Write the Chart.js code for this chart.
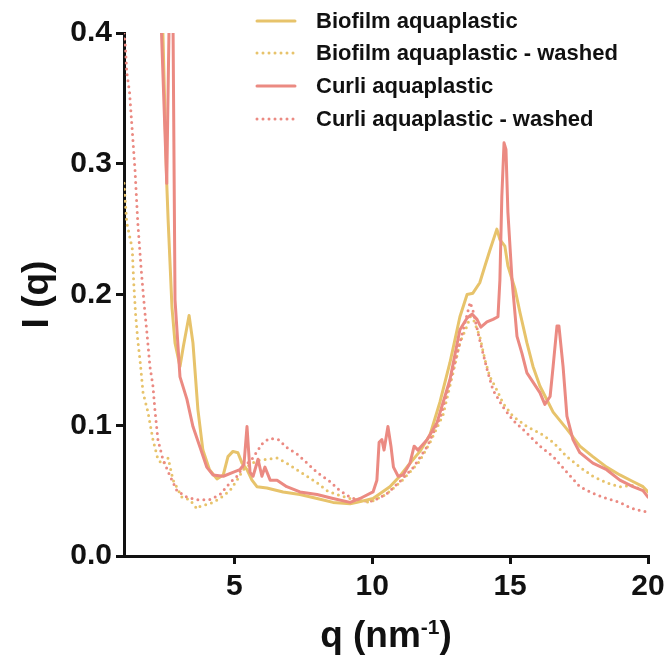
<!DOCTYPE html>
<html><head><meta charset="utf-8">
<script src="https://cdn.jsdelivr.net/npm/chart.js@4.4.0/dist/chart.umd.min.js"></script>
<style>html,body{margin:0;padding:0;background:#fff;} canvas{display:block;}</style>
</head><body>
<canvas id="c" width="670" height="663"></canvas>
<script>
const seriesNames = ["Biofilm aquaplastic", "Biofilm aquaplastic - washed", "Curli aquaplastic", "Curli aquaplastic - washed"];
const xTicks = [5, 10, 15, 20];
const yTicks = [0, 0.1, 0.2, 0.3, 0.4];

const biofilmQ = [2.2, 2.41, 2.55, 2.6, 2.74, 2.85, 3.03, 3.15, 3.36, 3.5, 3.68, 3.86, 4.1, 4.37, 4.6, 4.77, 4.95, 5.13, 5.28, 5.46, 5.64, 5.82, 6.18, 6.77, 7.38, 8.0, 8.58, 9.2, 9.45, 10.03, 10.64, 11.0, 11.37, 11.73, 12.1, 12.46, 12.82, 13.18, 13.44, 13.65, 13.9, 14.09, 14.27, 14.52, 14.63, 14.81, 14.92, 15.18, 15.36, 15.61, 15.83, 16.08, 16.37, 16.56, 17.06, 17.53, 18.0, 18.5, 18.98, 19.45, 19.82, 20.0];
const biofilmI = [0.6, 0.4, 0.285, 0.257, 0.19, 0.163, 0.145, 0.16, 0.184, 0.163, 0.112, 0.081, 0.066, 0.059, 0.062, 0.076, 0.08, 0.079, 0.071, 0.066, 0.058, 0.053, 0.052, 0.049, 0.047, 0.044, 0.041, 0.04, 0.041, 0.044, 0.053, 0.061, 0.071, 0.08, 0.093, 0.118, 0.148, 0.183, 0.2, 0.201, 0.209, 0.222, 0.234, 0.25, 0.242, 0.237, 0.222, 0.204, 0.186, 0.163, 0.145, 0.13, 0.118, 0.11, 0.097, 0.084, 0.076, 0.068, 0.062, 0.057, 0.053, 0.049];

const biofilmWashedQ = [1.0, 1.05, 1.1, 1.2, 1.3, 1.35, 1.42, 1.5, 1.58, 1.69, 1.87, 2.05, 2.23, 2.4, 2.6, 2.78, 3.1, 3.39, 3.65, 3.76, 4.12, 4.48, 4.84, 5.1, 5.32, 5.57, 5.82, 6.18, 6.55, 6.9, 7.27, 7.64, 8.0, 8.36, 8.72, 9.2, 9.9, 10.5, 11.1, 11.7, 12.1, 12.57, 12.93, 13.18, 13.44, 13.55, 13.65, 13.9, 14.09, 14.27, 14.52, 14.74, 15.1, 15.61, 16.08, 16.56, 17.06, 17.53, 18.0, 18.5, 18.98, 19.45, 19.82, 20.0];
const biofilmWashedI = [0.285, 0.27, 0.255, 0.245, 0.235, 0.21, 0.185, 0.165, 0.15, 0.125, 0.11, 0.089, 0.074, 0.07, 0.075, 0.058, 0.045, 0.043, 0.036, 0.038, 0.04, 0.044, 0.05, 0.058, 0.066, 0.07, 0.073, 0.074, 0.075, 0.071, 0.066, 0.061, 0.056, 0.05, 0.047, 0.044, 0.041, 0.047, 0.058, 0.072, 0.087, 0.108, 0.14, 0.163, 0.176, 0.183, 0.182, 0.168, 0.15, 0.137, 0.127, 0.117, 0.107, 0.099, 0.094, 0.087, 0.076, 0.068, 0.061, 0.056, 0.053, 0.054, 0.05, 0.049];

const curliQ = [2.2, 2.36, 2.55, 2.63, 2.7, 2.78, 2.85, 3.03, 3.28, 3.5, 3.76, 4.0, 4.23, 4.6, 4.95, 5.2, 5.35, 5.46, 5.57, 5.68, 5.86, 6.0, 6.11, 6.3, 6.55, 6.9, 7.38, 8.0, 8.58, 9.2, 9.56, 10.03, 10.17, 10.25, 10.35, 10.43, 10.57, 10.68, 10.77, 10.94, 11.12, 11.37, 11.52, 11.66, 11.99, 12.35, 12.82, 13.18, 13.44, 13.62, 13.8, 13.94, 14.16, 14.38, 14.56, 14.63, 14.7, 14.78, 14.85, 14.92, 15.07, 15.25, 15.43, 15.61, 15.83, 16.08, 16.26, 16.45, 16.56, 16.7, 16.77, 16.92, 17.06, 17.28, 17.53, 18.0, 18.5, 18.98, 19.45, 19.82, 20.0];
const curliI = [0.6, 0.4, 0.285, 0.4, 0.55, 0.4, 0.196, 0.137, 0.12, 0.099, 0.083, 0.068, 0.062, 0.061, 0.064, 0.066, 0.07, 0.099, 0.064, 0.061, 0.074, 0.061, 0.068, 0.058, 0.058, 0.053, 0.049, 0.047, 0.044, 0.041, 0.044, 0.049, 0.058, 0.087, 0.089, 0.081, 0.099, 0.084, 0.068, 0.061, 0.062, 0.071, 0.084, 0.081, 0.089, 0.102, 0.135, 0.173, 0.182, 0.185, 0.181, 0.175, 0.179, 0.181, 0.183, 0.211, 0.275, 0.316, 0.311, 0.263, 0.211, 0.168, 0.155, 0.14, 0.133, 0.125, 0.116, 0.122, 0.145, 0.176, 0.176, 0.145, 0.107, 0.089, 0.079, 0.071, 0.066, 0.058, 0.053, 0.05, 0.045];

const curliWashedQ = [1.0, 1.05, 1.1, 1.2, 1.3, 1.4, 1.5, 1.62, 1.7, 1.76, 1.83, 1.94, 2.05, 2.12, 2.23, 2.41, 2.67, 2.92, 3.28, 3.65, 4.1, 4.48, 4.84, 5.1, 5.32, 5.64, 5.86, 6.05, 6.3, 6.6, 6.9, 7.27, 7.64, 8.0, 8.47, 8.83, 9.2, 9.6, 10.0, 10.5, 11.0, 11.5, 12.0, 12.5, 12.9, 13.3, 13.55, 13.65, 13.9, 14.16, 14.38, 14.74, 15.1, 15.61, 16.08, 16.56, 17.06, 17.53, 18.0, 18.5, 18.98, 19.35, 19.82, 20.0];
const curliWashedI = [0.4, 0.39, 0.37, 0.355, 0.325, 0.295, 0.255, 0.22, 0.2, 0.186, 0.171, 0.145, 0.13, 0.112, 0.089, 0.074, 0.061, 0.05, 0.045, 0.043, 0.043, 0.047, 0.056, 0.061, 0.068, 0.074, 0.081, 0.087, 0.09, 0.089, 0.083, 0.078, 0.071, 0.064, 0.057, 0.05, 0.045, 0.042, 0.042, 0.047, 0.057, 0.068, 0.084, 0.108, 0.14, 0.173, 0.194, 0.188, 0.165, 0.143, 0.127, 0.114, 0.104, 0.094, 0.084, 0.076, 0.064, 0.053, 0.048, 0.044, 0.041, 0.037, 0.034, 0.034];

const YELLOW = '#E7C36B';
const PINK = '#EB8A82';
const FONT = "'Liberation Sans', Arial, Helvetica, sans-serif";

function pts(qs, is) { return qs.map((q, i) => ({ x: q, y: is[i] })); }

const styles = [
  { color: YELLOW, dash: [], width: 3, order: 1 },
  { color: YELLOW, dash: [0, 6], width: 3, order: 3 },
  { color: PINK, dash: [], width: 3, order: 0 },
  { color: PINK, dash: [0, 6], width: 3, order: 2 }
];
const allData = [pts(biofilmQ, biofilmI), pts(biofilmWashedQ, biofilmWashedI), pts(curliQ, curliI), pts(curliWashedQ, curliWashedI)];

const datasets = allData.map((d, k) => ({
  label: seriesNames[k],
  data: d,
  borderColor: styles[k].color,
  backgroundColor: styles[k].color,
  borderWidth: styles[k].width,
  borderDash: styles[k].dash,
  borderCapStyle: 'round',
  borderJoinStyle: 'round',
  pointRadius: 0,
  tension: 0,
  fill: false,
  order: styles[k].order
}));

const decor = {
  id: 'decor',
  afterDraw(chart) {
    const ctx = chart.ctx;
    const a = chart.chartArea;
    ctx.save();
    ctx.fillStyle = '#111';
    // Y title
    ctx.save();
    ctx.translate(38, (a.top + a.bottom) / 2);
    ctx.rotate(-Math.PI / 2);
    ctx.font = "bold 37px " + FONT;
    ctx.textAlign = 'center';
    ctx.textBaseline = 'middle';
    ctx.fillText('I (q)', 0, 0);
    ctx.restore();
    // X title with superscript
    const big = "bold 37px " + FONT, small = "bold 21px " + FONT;
    const p1 = 'q (nm', sup = '-1', p2 = ')';
    ctx.font = big; const w1 = ctx.measureText(p1).width, w3 = ctx.measureText(p2).width;
    ctx.font = small; const w2 = ctx.measureText(sup).width;
    const total = w1 + w2 + w3;
    let x = (a.left + a.right) / 2 - total / 2;
    const base = 647;
    ctx.textAlign = 'left';
    ctx.textBaseline = 'alphabetic';
    ctx.font = big; ctx.fillText(p1, x, base); x += w1;
    ctx.font = small; ctx.fillText(sup, x, base - 13); x += w2;
    ctx.font = big; ctx.fillText(p2, x, base);
    // Legend
    const rows = [21, 53, 86, 119];
    ctx.font = "bold 22px " + FONT;
    ctx.textBaseline = 'middle';
    datasets.forEach((ds, k) => {
      const y = rows[k];
      ctx.beginPath();
      ctx.strokeStyle = ds.borderColor;
      ctx.lineWidth = 3;
      ctx.lineCap = 'round';
      ctx.setLineDash(ds.borderDash);
      ctx.moveTo(257, y);
      ctx.lineTo(295, y);
      ctx.stroke();
      ctx.setLineDash([]);
      ctx.fillStyle = '#111';
      ctx.fillText(ds.label, 316, y + 1);
    });
    ctx.restore();
  }
};

const tickFont = { family: FONT, weight: 'bold', size: 30 };

new Chart(document.getElementById('c'), {
  type: 'line',
  data: { datasets },
  options: {
    responsive: false,
    animation: false,
    parsing: true,
    layout: { padding: { top: 33, right: 22, left: 0, bottom: 0 } },
    plugins: { legend: { display: false }, tooltip: { enabled: false } },
    scales: {
      x: {
        type: 'linear', min: 1, max: 20,
        afterBuildTicks: s => { s.ticks = xTicks.map(v => ({ value: v })); },
        afterFit: s => { s.height = 107; },
        grid: { drawOnChartArea: false, drawTicks: true, tickLength: 8, tickWidth: 3, tickColor: '#111', color: '#111', lineWidth: 3 },
        border: { display: true, color: '#111', width: 3 },
        ticks: { font: tickFont, color: '#111', padding: 5, maxRotation: 0, autoSkip: false }
      },
      y: {
        type: 'linear', min: 0, max: 0.4,
        afterBuildTicks: s => { s.ticks = yTicks.map(v => ({ value: v })); },
        afterFit: s => { s.width = 124; },
        grid: { drawOnChartArea: false, drawTicks: true, tickLength: 8, tickWidth: 3, tickColor: '#111', color: '#111', lineWidth: 3 },
        border: { display: true, color: '#111', width: 3 },
        ticks: { font: tickFont, color: '#111', padding: 4, callback: v => Number(v).toFixed(1) }
      }
    }
  },
  plugins: [decor]
});
</script>
</body></html>
